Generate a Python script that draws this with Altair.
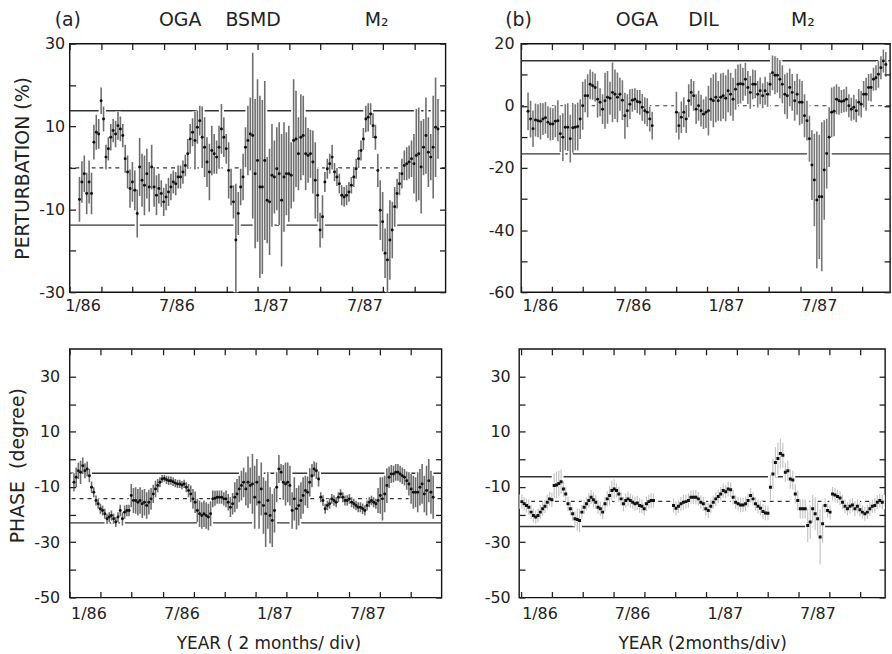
import altair as alt
import numpy as np
import pandas as pd

FONT = "DejaVu Sans"
NB = "\u00a0"

# ---------------- data (months since 1/86) ----------------
# Panel (a) OGA BSMD perturbation (%)
a_span = (0.63, 23.52)
a_val = [-7.6,-3.4,-1.4,-6.2,-3.4,-6.2,6.2,8.6,8.2,16.2,11.8,2.6,4.6,7.4,9.0,8.2,10.2,9.4,7.8,2.2,
         -1.0,-5.0,-3.4,-5.4,-11.0,0.2,-3.0,-4.2,-1.4,-4.6,0.2,-4.6,-6.6,-5.0,-6.2,-8.2,-7.0,-5.8,-4.6,-3.4,
         -3.8,-2.2,-2.2,-1.0,0.6,3.4,7.0,8.6,6.6,9.8,11.4,7.4,5.0,1.4,-1.0,4.2,3.4,2.6,5.0,9.4,
         7.4,4.6,-0.6,-4.6,-8.2,-17.4,-11.0,-4.6,-2.2,5.0,6.6,8.2,
         7.8,-1.4,1.8,-4.6,-4.6,1.8,-7.8,-8.2,-1.8,-2.2,-0.2,-1.4,-7.8,-2.2,-1.4,-1.4,-1.8,6.6,7.0,3.4,
         7.4,7.8,3.4,3.0,3.4,1.4,-3.0,-6.6,-15.0,-11.8,-3.4,-0.2,1.0,2.6,-1.0,-2.2,-3.8,-6.6,-7.0,-6.6,
         -5.8,-4.2,-2.2,-0.2,2.2,4.2,7.0,11.8,12.2,13.0,10.2,7.4,-0.6,-10.2,-13.0,-20.6,-22.2,-17.4,-15.0,-9.4,
         -6.2,-3.8,-1.4,0.6,1.0,1.4,2.2,1.0,3.0,3.4,0.2,5.0,7.8,3.8,2.6,5.0,9.8,9.4]
a_err = [5.4,5.0,4.4,5.0,5.2,5.0,4.2,4.2,3.6,3.2,3.0,3.0,2.8,3.2,2.8,3.2,3.4,3.0,2.8,3.4,
         4.0,4.6,4.8,4.8,5.8,7.0,6.4,7.2,6.0,6.0,5.4,4.8,4.8,3.6,3.2,3.4,3.2,3.4,3.2,2.8,
         2.8,2.8,2.8,2.8,2.6,3.6,3.6,3.4,7.0,4.0,3.6,7.4,7.2,6.0,6.8,6.0,4.8,4.0,5.2,6.0,
         4.8,3.6,6.8,4.4,4.0,13.6,5.2,4.4,5.6,4.8,8.4,8.8,
         20.0,18.0,19.6,22.0,21.0,19.2,10.4,12.8,12.4,8.8,10.0,12.4,16.0,13.2,10.0,11.6,8.0,14.8,11.6,8.8,
         10.4,9.6,8.8,6.6,5.8,7.6,9.2,6.4,4.2,5.2,2.4,2.4,2.4,3.0,2.2,2.2,2.4,2.4,2.4,2.4,
         2.4,2.0,2.4,2.4,2.2,2.4,2.6,3.2,3.4,2.6,3.0,3.0,4.0,7.2,7.2,6.0,11.2,9.6,6.8,4.8,
         3.6,2.8,3.6,3.6,4.0,4.0,4.4,7.2,11.2,11.2,11.2,6.8,9.2,8.4,5.6,12.4,12.0,7.2]
a_refs_solid = [13.8, -13.8]
a_refs_mean = [0.0]

# Panel (b) OGA DIL perturbation (%)  -- two segments (data gap)
b1_span = (0.45, 8.46)
b1_val = [-1.8,-4.3,-7.4,-4.6,-4.8,-5.0,-4.3,-3.9,-5.3,-5.9,-5.9,-5.0,-4.8,-9.0,-10.1,-6.9,-6.9,-10.6,-7.1,-6.9,
          -6.7,-4.3,0.0,3.2,3.2,6.9,6.4,5.9,2.1,1.1,-1.1,1.6,2.7,2.4,4.3,3.7,2.7,3.7,1.8,-3.2,
          -1.6,0.5,1.8,2.1,1.4,1.1,-0.5,-1.6,-2.1,-4.3,-6.4]
b1_err = [6.1,5.9,5.9,5.3,5.3,5.9,5.1,5.1,5.1,5.3,5.1,5.1,6.6,5.9,7.7,7.4,7.7,7.7,8.0,7.4,
          7.7,6.4,7.7,5.3,6.9,4.8,4.5,4.5,5.9,4.5,4.8,9.0,8.5,5.3,9.6,8.0,8.0,5.3,6.4,7.4,
          5.3,4.8,3.7,3.5,3.7,4.0,4.3,4.3,4.5,4.0,4.5]
b2_span = (10.02, 23.53)
b2_val = [-2.1,-6.4,-3.7,-2.1,-4.3,1.6,4.3,3.2,-1.1,0.0,-1.6,-2.7,-2.1,
          -1.6,2.1,1.6,2.7,1.6,2.7,3.2,2.4,4.8,3.7,2.1,5.3,6.9,7.1,6.9,8.5,5.9,4.3,6.9,6.9,3.7,4.8,3.2,4.8,3.7,6.9,
          10.6,9.8,9.8,8.5,6.9,3.7,3.2,5.9,4.3,1.6,3.7,1.1,1.1,-3.2,-4.8,-10.6,-19.1,-23.9,-30.3,-29.3,-29.3,-20.7,-15.4,-10.1,-2.1,-1.8,
          2.1,1.6,1.4,1.6,2.1,0.0,-1.1,-0.5,-1.6,1.1,0.5,3.7,3.7,5.9,5.9,8.5,9.0,10.1,12.2,14.4,13.3]
b2_err = [6.6,4.5,5.1,4.8,4.5,5.3,4.3,4.8,4.8,4.8,5.1,4.8,5.1,
          8.0,6.9,8.5,8.0,6.4,7.7,7.4,7.4,6.9,6.9,6.9,6.6,6.4,6.4,5.3,5.3,5.3,5.3,4.8,4.5,4.3,4.3,4.0,4.5,4.0,3.7,
          5.6,6.1,5.6,6.1,6.1,6.4,7.4,6.1,5.9,6.4,6.6,7.4,6.9,6.9,6.4,7.4,11.2,14.9,22.0,20.0,24.0,16.0,11.2,9.6,8.0,8.0,
          4.8,4.5,3.7,3.7,4.0,3.7,3.7,4.0,3.7,4.3,4.3,4.3,5.3,4.3,4.5,3.7,4.0,4.3,3.7,3.7,4.0]
b_refs_solid = [14.5, -15.5]
b_refs_mean = [0.0]

# Panel (c) OGA BSMD phase (degree)
c_span = (0.28, 23.46)
c_val = [-8.3,-6.5,-4.1,-4.7,-2.3,-4.1,-3.5,-5.9,
         -10.1,-11.9,-14.9,-16.1,-17.9,-18.5,-19.7,-21.5,-20.9,-20.3,-21.5,-22.7,-20.9,-18.5,-21.5,-19.1,-18.5,-18.5,
         -13.1,-14.9,-14.9,-15.5,-14.9,-16.1,-15.5,-16.7,-15.5,-14.3,-12.5,-10.7,-9.5,-8.3,-7.1,-6.9,-7.4,-7.7,-7.7,-8.1,
         -8.6,-8.9,-8.9,-9.3,-8.9,
         -10.1,-11.3,-12.5,-14.3,-15.5,-18.5,-19.7,-20.3,-19.7,-20.3,-20.9,-19.7,-14.3,-14.1,-13.7,-13.7,-13.7,-14.3,-14.3,-15.5,
         -17.3,-16.1,-13.7,-12.5,-10.7,-9.5,-8.3,-10.7,-8.3,-9.5,
         -8.9,-13.7,-8.3,-15.5,-10.7,-16.7,-19.7,-14.9,-20.3,-22.1,-18.5,-10.1,-3.5,-4.7,-8.3,-8.9,-8.3,-9.5,-18.5,-14.3,
         -17.9,-16.7,-14.9,-13.1,-11.3,-11.9,-8.3,-5.9,-3.5,-4.1,-7.1,
         -13.7,-14.9,-17.9,-16.7,-16.1,-14.3,-14.9,-15.5,-13.7,-12.5,-13.7,-14.9,-14.9,-14.3,-15.5,-16.1,-16.7,-17.3,-17.3,-17.9,
         -18.5,-16.7,-15.5,-14.9,-15.5,-16.1,
         -14.9,-13.1,-14.3,-12.5,-9.5,-6.5,-5.3,-5.3,-4.7,-4.7,-5.3,-5.9,-6.5,-7.7,-8.9,-10.7,-11.9,-11.9,-11.9,-10.1,
         -8.9,-12.5,-11.3,-7.7,-11.9,-13.7]
c_err = [3.3,3.6,3.0,4.2,3.0,2.7,2.7,2.4,
         2.1,1.8,1.8,1.8,1.8,1.8,1.8,1.8,1.8,1.8,1.8,1.8,1.8,2.1,2.4,2.4,2.1,2.1,
         4.2,4.5,4.8,4.8,4.8,5.1,4.8,4.8,4.5,3.9,3.3,3.0,2.4,1.8,1.4,1.2,1.5,1.6,1.5,1.5,1.5,1.5,1.5,1.5,1.5,
         1.8,2.4,3.0,3.6,3.9,4.2,4.8,4.8,4.8,4.8,4.8,4.5,3.0,2.7,2.4,2.4,2.4,2.4,3.0,3.0,
         3.6,3.9,5.4,5.4,4.8,5.4,5.4,6.0,9.3,6.6,
         10.8,11.4,8.4,9.6,9.6,10.2,12.0,10.2,10.2,9.6,8.0,5.4,5.1,3.0,6.3,7.8,7.2,7.2,6.6,7.8,
         7.5,7.2,6.6,6.6,5.4,5.7,5.1,4.2,2.7,3.0,2.7,
         1.8,1.9,1.8,1.7,1.8,1.8,1.9,1.8,1.8,1.7,1.8,1.8,1.9,1.8,1.8,1.8,1.7,1.8,1.8,1.9,
         1.8,1.8,1.8,1.7,1.8,1.8,
         4.5,6.6,7.8,6.6,6.3,3.9,3.3,3.0,3.0,3.0,3.0,3.0,3.0,3.3,4.2,5.4,6.0,5.4,7.2,6.6,
         7.2,6.6,9.0,7.8,7.8,7.8]
c_refs_solid = [-5.0, -23.0]
c_refs_mean = [-14.2]

# Panel (d) OGA DIL phase (degree) -- two segments (data gap)
d1_span = (0.08, 8.6)
d1_val = [-15.3,-16.1,-16.7,-17.3,-19.1,-20.3,-20.9,-20.3,-19.1,-17.9,-17.0,-15.5,-14.3,-14.6,
          -9.5,-9.3,-8.7,-8.1,-10.7,-12.5,-16.1,-17.9,-19.7,-21.5,-21.8,-22.1,
          -19.1,-17.3,-16.1,-14.9,-13.7,-14.6,-15.5,-17.3,-17.9,-19.1,-16.1,-14.3,-13.1,-11.3,
          -10.7,-11.3,-12.5,-14.3,-16.1,-14.9,-14.3,-14.9,-15.5,-16.1,-15.8,-16.7,-17.0,-17.9,-16.1,-15.3,-14.9,-14.9]
d1_err = [2.6,2.4,2.5,2.8,2.5,2.6,2.4,2.5,2.6,2.5,2.4,2.7,2.5,2.6,
          4.5,4.8,4.6,4.4,2.8,2.5,2.6,2.4,2.5,2.7,4.0,4.2,
          2.6,2.5,2.4,2.6,2.5,2.7,2.5,2.4,2.6,2.5,2.6,2.8,3.5,3.6,
          3.5,2.6,2.5,2.4,2.6,2.5,2.7,2.5,2.4,2.6,2.5,2.6,2.5,2.4,2.6,2.5,2.7,2.5]
d2_span = (9.9, 23.42)
d2_val = [-16.7,-17.7,-17.0,-16.1,-15.5,-15.3,-14.9,-13.7,-13.7,-13.7,-14.3,-15.5,
          -16.1,-17.9,-18.5,-17.0,-15.5,-14.3,-13.4,-12.5,-11.3,-11.7,-10.7,-11.0,-13.7,-15.5,-16.1,-16.5,-16.5,-16.1,
          -14.9,-13.1,-14.3,-16.1,-17.0,-17.7,-18.9,-19.4,-19.5,
          -10.1,-5.3,-1.1,0.3,2.1,1.5,-4.7,-4.1,-7.1,-7.5,-12.5,-14.9,-17.9,-17.9,-17.9,-23.9,-22.7,-17.9,-19.7,-21.5,
          -28.1,-23.3,
          -16.7,-18.5,-19.1,-12.5,-12.9,-13.4,-14.0,-15.5,-17.0,-17.9,-17.0,-16.5,-17.9,-17.0,-18.2,-19.1,-19.7,-19.1,-17.9,-17.0,
          -16.7,-15.5,-14.9,-15.5]
d2_err = [2.5,2.6,2.4,2.5,2.7,2.5,2.6,2.4,2.5,2.6,2.5,2.4,
          2.6,2.5,2.7,2.5,2.4,2.6,2.5,2.5,2.6,2.4,2.7,2.5,2.6,2.5,2.4,2.6,2.5,2.7,
          2.5,2.6,2.4,2.5,2.6,2.5,2.7,2.6,2.5,
          4.5,5.5,5.5,5.8,5.5,4.5,3.5,3.6,3.5,3.4,3.5,3.6,3.5,3.5,3.4,6.0,6.0,5.0,6.0,6.0,
          10.0,7.0,
          2.6,2.5,2.7,2.5,2.6,2.4,2.5,2.6,2.5,2.4,2.6,2.5,2.7,2.5,2.6,2.4,2.5,2.6,2.5,2.4,
          2.6,2.5,2.4,2.6]
d_refs_solid = [-6.3, -24.3]
d_refs_mean = [-15.2]

MONTH_TICKS = [0, 2, 4, 6, 8, 10, 12, 14, 16, 18, 20, 22]
MONTH_LABELS = {0: "1/86", 6: "7/86", 12: "1/87", 18: "7/87"}

LABEL_EXPR = " : ".join(
    [f"datum.value == {k} ? '{v}'" for k, v in MONTH_LABELS.items()]) + " : ''"


def make_df(segments):
    rows = []
    for (t0, t1), vals, errs in segments:
        ts = np.linspace(t0, t1, len(vals))
        for t, v, e in zip(ts, vals, errs):
            rows.append({"t": float(t), "v": v, "lo": v - e, "hi": v + e})
    return pd.DataFrame(rows)


def panel(df, xdom, ydom, yvals, ylabel_expr, refs_solid, refs_mean, width, height,
          title_text, title_dx, ytitle, xtitle, xlab_offset, ylab_pad, bar_color,
          bar_width, dot_mark, ytitle_pad=6, xtitle_x=None, ytitle_y=None,
          xlab_pad=5, xtitle_pad=6):
    xs = alt.Scale(domain=xdom, nice=False, zero=False)
    ys = alt.Scale(domain=ydom, nice=False, zero=False)
    common = dict(domain=False, grid=False, tickSize=6, offset=-6, tickColor="#222",
                  tickWidth=1.3, zindex=2)
    xb_kw = dict(orient="bottom", values=MONTH_TICKS, labelExpr=LABEL_EXPR,
                 labelAlign="left", labelOffset=xlab_offset, labelPadding=xlab_pad,
                 labelFlush=False, labelOverlap=False, titlePadding=xtitle_pad, **common)
    if xtitle_x is not None:
        xb_kw["titleX"] = xtitle_x
    x_bottom = alt.Axis(**xb_kw)
    x_top = alt.Axis(orient="top", values=MONTH_TICKS, labels=False, **common)
    yl_kw = dict(orient="left", values=yvals, labelExpr=ylabel_expr,
                 labelPadding=ylab_pad, labelFlush=False, labelOverlap=False,
                 titlePadding=ytitle_pad, titleFontSize=19, **common)
    if ytitle_y is not None:
        yl_kw["titleY"] = ytitle_y
    y_left = alt.Axis(**yl_kw)
    y_right = alt.Axis(orient="right", values=yvals, labels=False, **common)

    base = alt.Chart(df)
    solid = alt.Chart(pd.DataFrame({"r": refs_solid})).mark_rule(
        color="#333", strokeWidth=1.4).encode(y=alt.Y("r:Q", scale=ys, axis=None))
    mean = alt.Chart(pd.DataFrame({"r": refs_mean})).mark_rule(
        color="#333", strokeWidth=1.2, strokeDash=[4, 4]).encode(
        y=alt.Y("r:Q", scale=ys, axis=None))
    mask = base.mark_rule(color="white", strokeWidth=5, clip=True).encode(
        x=alt.X("t:Q", scale=xs, axis=None),
        y=alt.Y("lo:Q", scale=ys, axis=None), y2="hi:Q")
    if xtitle:
        xenc = alt.X("t:Q", scale=xs, axis=x_bottom, title=xtitle)
    else:
        xenc = alt.X("t:Q", scale=xs, axis=x_bottom, title=None)
    if ytitle:
        yenc = alt.Y("lo:Q", scale=ys, axis=y_left, title=ytitle)
    else:
        yenc = alt.Y("lo:Q", scale=ys, axis=y_left, title=None)
    bars = base.mark_rule(color=bar_color, strokeWidth=bar_width, clip=True).encode(
        x=xenc, y=yenc, y2="hi:Q")
    dots = dot_mark(base).encode(
        x=alt.X("t:Q", scale=xs, axis=x_top, title=None),
        y=alt.Y("v:Q", scale=ys, axis=y_right, title=None))
    return alt.layer(solid, mean, mask, bars, dots).resolve_axis(
        x="independent", y="independent").properties(
        width=width, height=height,
        title=alt.TitleParams(text=title_text, anchor="start", frame="group",
                              dx=title_dx, offset=6, font=FONT, fontSize=19,
                              fontWeight="normal", color="#222"))


def circles(b):
    return b.mark_circle(size=9, color="#111", opacity=1, clip=True)


def squares(b):
    return b.mark_square(size=9, color="#111", opacity=1, clip=True)


df_a = make_df([(a_span, a_val, a_err)])
df_b = make_df([(b1_span, b1_val, b1_err), (b2_span, b2_val, b2_err)])
df_c = make_df([(c_span, c_val, c_err)])
df_d = make_df([(d1_span, d1_val, d1_err), (d2_span, d2_val, d2_err)])

odd20 = "abs(datum.value % 20) == 10 ? toString(datum.value) : ''"
even20 = "datum.value % 20 == 0 ? toString(datum.value) : ''"

title_a = "(a)" + NB * 13 + "OGA" + NB * 4 + "BSMD" + NB * 14 + "M\u2082"
title_b = "(b)" + NB * 14 + "OGA" + NB * 5 + "DIL" + NB * 12 + "M\u2082"

pa = panel(df_a, [0, 24], [-30, 30], [-30, -20, -10, 0, 10, 20, 30], odd20,
           a_refs_solid, a_refs_mean, 378, 250, title_a, -15,
           "PERTURBATION (%)", None, -5, 5, "#6e6e6e", 1.6, circles)
pb = panel(df_b, [0, 23.8], [-60, 20], [-60, -50, -40, -30, -20, -10, 0, 10, 20], even20,
           b_refs_solid, b_refs_mean, 371, 250, title_b, -16,
           None, None, 1, 7, "#777777", 1.6, circles)
pc = panel(df_c, [0, 24], [-50, 40], [-50, -40, -30, -20, -10, 0, 10, 20, 30], odd20,
           c_refs_solid, c_refs_mean, 374, 250, "", 0,
           "PHASE" + NB + " (degree)", "YEAR ( 2 months/ div)", 1, 10, "#6e6e6e", 1.6, circles,
           ytitle_pad=6, xtitle_x=200, ytitle_y=117, xlab_pad=8, xtitle_pad=14)
pd_ = panel(df_d, [-0.1, 23.6], [-50, 40], [-50, -40, -30, -20, -10, 0, 10, 20, 30], odd20,
            d_refs_solid, d_refs_mean, 368, 250, "", 0,
            None, "YEAR (2months/div)", 1, 9, "#c4c4c4", 1.2, squares,
            xlab_pad=8, xtitle_pad=14)

top = alt.hconcat(pa, pb, spacing=40)
bottom = alt.hconcat(pc, pd_, spacing=40)

chart = alt.vconcat(top, bottom, spacing=33).properties(
    padding={"left": 8, "top": 8, "right": 0, "bottom": 0}
).configure_view(stroke="#111", strokeWidth=1.4).configure_axis(
    labelFont=FONT, titleFont=FONT, labelColor="#222", titleColor="#222",
    labelFontSize=16, titleFontSize=17, titleFontWeight="normal"
).configure_title(font=FONT)

chart.save("out.html", embed_options={"renderer": "svg", "actions": False})
